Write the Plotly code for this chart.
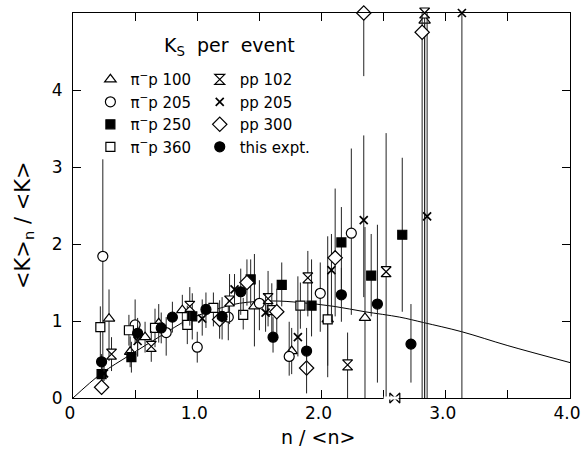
import plotly.graph_objects as go

# ---------------- data ----------------
# pi- p 100 GeV (open triangles)
pim100_x = [0.29, 0.46, 0.58, 0.69, 0.88, 1.46, 1.76, 2.05, 2.35, 2.83]
pim100_y = [1.03, 0.60, 0.79, 0.97, 1.14, 1.19, 0.61, 1.02, 1.04, 4.90]
pim100_ep = [0.38, 0.20, 0.20, 0.25, 0.20, 0.68, 0.30, 1.08, 1.18, 0.10]
pim100_em = [0.55, 0.20, 0.20, 0.25, 0.20, 0.52, 0.30, 0.75, 1.04, 4.90]

# pp 102 GeV (hourglass)
pp102_x = [0.31, 0.63, 0.94, 1.26, 1.57, 1.89, 2.21, 2.52, 2.83]
pp102_y = [0.57, 0.67, 1.19, 1.26, 1.29, 1.56, 0.43, 1.64, 5.00]
pp102_ep = [0.22, 0.20, 0.25, 0.35, 0.36, 0.35, 0.42, 1.80, 0.00]
pp102_em = [0.22, 0.20, 0.25, 0.30, 0.36, 0.50, 0.43, 1.64, 5.00]
pp102_low_x = [2.59]
pp102_low_y = [0.0]

# pi- p 205 GeV (open circles)
pim205_x = [0.24, 0.50, 0.75, 1.00, 1.25, 1.50, 1.74, 1.99, 2.24]
pim205_y = [1.84, 0.95, 0.85, 0.66, 1.05, 1.23, 0.54, 1.36, 2.14]
pim205_ep = [1.26, 0.33, 0.20, 0.20, 0.25, 0.30, 0.45, 0.40, 1.10]
pim205_em = [1.69, 0.25, 0.30, 0.20, 0.30, 0.35, 0.25, 0.50, 1.06]

# pp 205 GeV (crosses)
pp205_x = [0.25, 0.52, 1.04, 1.30, 1.55, 1.81, 2.08, 2.34, 2.85, 3.13]
pp205_y = [0.32, 0.74, 1.03, 1.41, 1.11, 0.79, 1.66, 2.31, 2.36, 5.00]
pp205_ep = [0.10, 0.20, 0.25, 0.20, 0.25, 0.79, 0.47, 1.10, 2.64, 0.00]
pp205_em = [0.10, 0.20, 0.22, 0.20, 0.25, 0.25, 0.68, 1.00, 2.36, 5.00]

# pi- p 250 GeV (filled squares)
pim250_x = [0.23, 0.47, 0.96, 1.43, 1.68, 1.92, 2.16, 2.40, 2.65]
pim250_y = [0.31, 0.53, 1.06, 1.54, 1.47, 1.20, 2.02, 1.59, 2.12]
pim250_ep = [0.08, 0.20, 0.30, 0.26, 0.29, 0.60, 0.46, 0.54, 1.00]
pim250_em = [0.08, 0.20, 0.30, 0.33, 0.28, 0.40, 0.60, 0.53, 1.00]

# pp 300 GeV (open diamonds)
pp300_x = [0.23, 1.18, 1.40, 1.64, 1.88, 2.11, 2.34, 2.81]
pp300_y = [0.14, 1.02, 1.50, 1.12, 0.39, 1.82, 5.00, 4.75]
pp300_ep = [0.10, 0.25, 0.30, 0.30, 0.25, 0.90, 0.00, 0.25]
pp300_em = [0.10, 0.25, 0.30, 0.30, 0.33, 0.76, 0.82, 4.75]

# pi- p 360 GeV (open squares)
pim360_x = [0.22, 0.45, 0.66, 0.92, 1.13, 1.37, 1.60, 1.83, 2.05]
pim360_y = [0.92, 0.88, 0.91, 0.95, 1.17, 1.08, 1.14, 1.20, 1.02]
pim360_ep = [0.27, 0.20, 0.25, 0.25, 0.20, 0.22, 0.35, 0.30, 0.60]
pim360_em = [0.40, 0.20, 0.25, 0.25, 0.24, 0.19, 0.30, 0.30, 0.60]

# this experiment (filled circles)
this_x = [0.23, 0.52, 0.71, 0.80, 1.07, 1.20, 1.35, 1.61, 1.88, 2.16, 2.45, 2.72]
this_y = [0.47, 0.84, 0.91, 1.05, 1.15, 1.06, 1.38, 0.79, 0.61, 1.34, 1.22, 0.70]
this_ep = [0.10, 0.20, 0.20, 0.20, 0.22, 0.25, 0.30, 0.26, 0.30, 0.35, 1.03, 0.52]
this_em = [0.10, 0.30, 0.20, 0.20, 0.24, 0.30, 0.30, 0.20, 0.30, 0.35, 1.02, 0.50]

# smooth curve
curve_x = [0.0, 0.23, 0.46, 0.70, 0.93, 1.15, 1.34, 1.60, 1.83, 2.10, 2.35, 2.63, 2.82, 3.13, 3.50, 4.0]
curve_y = [0.0, 0.32, 0.56, 0.80, 1.02, 1.15, 1.23, 1.26, 1.24, 1.19, 1.12, 1.05, 0.98, 0.86, 0.68, 0.46]

# axis ticks
x_tick_vals = [0, 0.5, 1.0, 1.5, 2.0, 2.5, 3.0, 3.5, 4.0]
x_tick_text = ["0", "", "1.0", "", "2.0", "", "3.0", "", "4.0"]
y_tick_vals = [0, 1, 2, 3, 4]
y_tick_text = ["0", "1", "2", "3", "4"]

FONT = "DejaVu Sans"
INK = "black"

fig = go.Figure()

fig.add_trace(go.Scatter(x=curve_x, y=curve_y, mode="lines",
                         line=dict(color=INK, width=1, shape="spline", smoothing=1.0),
                         showlegend=False, hoverinfo="skip"))


def add_series(name, xs, ys, ep, em, symbol, filled, legend, size=9, lw=1.2):
    fig.add_trace(go.Scatter(
        x=xs, y=ys, mode="markers", name=name, legend=legend,
        cliponaxis=False,
        marker=dict(symbol=symbol, size=size,
                    color=INK if filled else "white",
                    line=dict(color=INK, width=lw)),
        error_y=dict(type="data", symmetric=False, array=ep, arrayminus=em,
                     width=0, thickness=1, color="#222222"),
    ))


add_series("π<sup>−</sup>p 100", pim100_x, pim100_y, pim100_ep, pim100_em,
           "triangle-up", False, "legend", 10)
add_series("π<sup>−</sup>p 205", pim205_x, pim205_y, pim205_ep, pim205_em,
           "circle", False, "legend", 10)
add_series("π<sup>−</sup>p 250", pim250_x, pim250_y, pim250_ep, pim250_em,
           "square", True, "legend", 9)
add_series("π<sup>−</sup>p 360", pim360_x, pim360_y, pim360_ep, pim360_em,
           "square", False, "legend", 9)
add_series("pp 102", pp102_x, pp102_y, pp102_ep, pp102_em,
           "hourglass", False, "legend2", 10)
add_series("pp 205", pp205_x, pp205_y, pp205_ep, pp205_em,
           "x-thin", False, "legend2", 8, 1.7)
add_series("pp 300", pp300_x, pp300_y, pp300_ep, pp300_em,
           "diamond", False, "legend2", 11)
add_series("this expt.", this_x, this_y, this_ep, this_em,
           "circle", True, "legend2", 10)

# pp 102 point plotted on the axis (drawn sideways)
fig.add_trace(go.Scatter(x=pp102_low_x, y=pp102_low_y, mode="markers",
                         cliponaxis=False, showlegend=False,
                         marker=dict(symbol="bowtie", size=10, color="white",
                                     line=dict(color=INK, width=1.2))))

legend_common = dict(bgcolor="rgba(0,0,0,0)", borderwidth=0,
                     font=dict(family=FONT, size=15, color=INK),
                     itemsizing="trace", tracegroupgap=0,
                     xanchor="left", yanchor="top")

fig.update_layout(
    width=583, height=452,
    margin=dict(l=73, r=13, t=13, b=54),
    paper_bgcolor="white", plot_bgcolor="white",
    font=dict(family=FONT, color=INK),
    legend=dict(x=0.035, y=0.87, **legend_common),
    legend2=dict(x=0.255, y=0.87, **legend_common),
    annotations=[
        dict(text="K<sub>S</sub>  per  event", x=0.315, y=0.912,
             xref="paper", yref="paper", xanchor="center", yanchor="middle",
             showarrow=False, font=dict(family=FONT, size=19, color=INK)),
        dict(text="n / &lt;n&gt;", x=0.493, y=-0.10,
             xref="paper", yref="paper", xanchor="center", yanchor="middle",
             showarrow=False, font=dict(family=FONT, size=19, color=INK)),
        dict(text="&lt;K&gt;<sub>n</sub> / &lt;K&gt;", x=-0.10, y=0.45,
             xref="paper", yref="paper", xanchor="center", yanchor="middle",
             textangle=-90, showarrow=False, font=dict(family=FONT, size=21, color=INK)),
    ],
    shapes=[dict(type="line", xref="x", yref="paper", x0=2.50, x1=2.62, y0=0, y1=0,
                 line=dict(color="white", width=3), layer="above")],
    xaxis=dict(range=[0, 4.0], showline=True, linecolor=INK, linewidth=1,
               mirror="ticks", ticks="inside", ticklen=8, tickwidth=1, tickcolor=INK,
               tickvals=x_tick_vals, ticktext=x_tick_text, showgrid=False, zeroline=False,
               automargin=False, ticklabeloverflow="allow", ticklabelshift=-3,
               tickfont=dict(family=FONT, size=17, color=INK)),
    yaxis=dict(range=[0, 5.0], showline=True, linecolor=INK, linewidth=1,
               mirror="ticks", ticks="inside", ticklen=8, tickwidth=1, tickcolor=INK,
               tickvals=y_tick_vals, ticktext=y_tick_text, showgrid=False, zeroline=False,
               automargin=False, ticklabelstandoff=6,
               tickfont=dict(family=FONT, size=17, color=INK)),
)

# remove the page's default 8 px body margin so the 583x452 figure fills the window
fig.write_html("out.html",
               config={"displayModeBar": False},
               post_script="document.body.style.margin='0';"
                           "document.body.style.overflow='hidden';")
